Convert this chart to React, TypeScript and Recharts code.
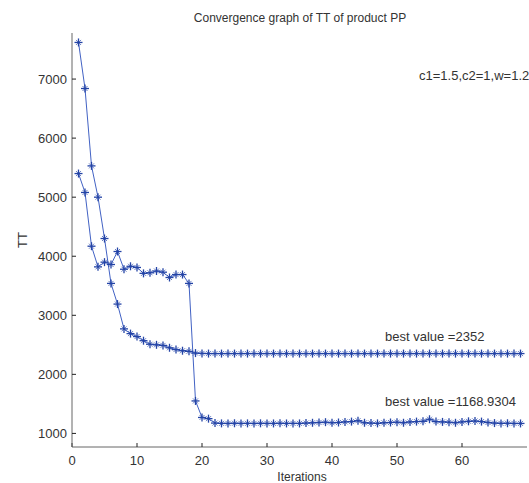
import React from 'react';
import { LineChart, Line, XAxis, YAxis } from 'recharts';

const iterations = [
  1, 2, 3, 4, 5, 6, 7, 8, 9, 10, 11, 12, 13, 14, 15, 16, 17, 18, 19, 20, 21, 22, 23,
  24, 25, 26, 27, 28, 29, 30, 31, 32, 33, 34, 35, 36, 37, 38, 39, 40, 41, 42, 43, 44,
  45, 46, 47, 48, 49, 50, 51, 52, 53, 54, 55, 56, 57, 58, 59, 60, 61, 62, 63, 64, 65,
  66, 67, 68, 69,
];

// run that ends at best value 2352
const runA = [
  7620, 6840, 5530, 5000, 4300, 3540, 3190, 2770, 2690, 2640, 2570, 2510, 2500, 2490,
  2450, 2420, 2400, 2390, 2360, 2355, 2352, 2352, 2352, 2352, 2352, 2352, 2352, 2352,
  2352, 2352, 2352, 2352, 2352, 2352, 2352, 2352, 2352, 2352, 2352, 2352, 2352, 2352,
  2352, 2352, 2352, 2352, 2352, 2352, 2352, 2352, 2352, 2352, 2352, 2352, 2352, 2352,
  2352, 2352, 2352, 2352, 2352, 2352, 2352, 2352, 2352, 2352, 2352, 2352, 2352,
];

// run that ends at best value 1168.9304
const runB = [
  5400, 5080, 4170, 3820, 3900, 3860, 4080, 3780, 3830, 3810, 3710, 3720, 3750, 3730,
  3640, 3690, 3690, 3540, 1550, 1270, 1250, 1175, 1170, 1169, 1172, 1169, 1170, 1169,
  1171, 1169, 1169, 1172, 1169, 1170, 1169, 1175, 1180, 1185, 1190, 1180, 1185, 1195,
  1200, 1215, 1180, 1175, 1170, 1180, 1185, 1190, 1180, 1195, 1200, 1205, 1240, 1200,
  1195, 1190, 1180, 1195, 1205, 1210, 1200, 1185, 1175, 1170, 1172, 1169, 1169,
];

const xTicks = [0, 10, 20, 30, 40, 50, 60];
const yTicks = [1000, 2000, 3000, 4000, 5000, 6000, 7000];

const data = iterations.map((it, i) => ({ it, a: runA[i], b: runB[i] }));

const LINE = '#4262c4';
const MARK = '#2444a6';
const FONT = '"Liberation Sans", Arial, sans-serif';

// matlab style '*' marker
function Star(props: any) {
  const { cx, cy } = props;
  if (cx == null || cy == null) return null;
  const s = 4;
  const d = 2.5;
  return (
    <g stroke={MARK} strokeWidth={1.3}>
      <line x1={cx - s} y1={cy} x2={cx + s} y2={cy} />
      <line x1={cx} y1={cy - s} x2={cx} y2={cy + s} />
      <line x1={cx - d} y1={cy - d} x2={cx + d} y2={cy + d} strokeWidth={0.7} />
      <line x1={cx - d} y1={cy + d} x2={cx + d} y2={cy - d} strokeWidth={0.7} />
    </g>
  );
}

const txt: React.CSSProperties = {
  position: 'absolute',
  fontFamily: FONT,
  color: '#333',
  lineHeight: 1,
  whiteSpace: 'nowrap',
};

export default function App() {
  return (
    <div style={{ position: 'absolute', left: 0, top: 0, width: 529, height: 483, background: '#fff' }}>
      <LineChart
        width={529}
        height={483}
        data={data}
        margin={{ top: 33, right: 2, bottom: 6, left: 12 }}
      >
        <XAxis
          dataKey="it"
          type="number"
          domain={[0, 70]}
          ticks={xTicks}
          height={30}
          stroke="#666"
          tickSize={-4}
          tickMargin={13}
          tick={{ fill: '#333', fontSize: 13, fontFamily: FONT }}
          tickLine={{ stroke: '#222' }}
          allowDataOverflow
        />
        <YAxis
          type="number"
          domain={[770, 7780]}
          ticks={yTicks}
          width={60}
          stroke="#666"
          tickSize={-4}
          tickMargin={9}
          tick={{ fill: '#333', fontSize: 13, fontFamily: FONT }}
          tickLine={{ stroke: '#222' }}
          allowDataOverflow
        />
        <Line
          dataKey="a"
          stroke={LINE}
          strokeWidth={1}
          dot={<Star />}
          activeDot={false}
          isAnimationActive={false}
        />
        <Line
          dataKey="b"
          stroke={LINE}
          strokeWidth={1}
          dot={<Star />}
          activeDot={false}
          isAnimationActive={false}
        />
      </LineChart>
      <div style={{ ...txt, left: 300, top: 12, fontSize: 12, transform: 'translateX(-50%)' }}>
        Convergence graph of TT of product PP
      </div>
      <div style={{ ...txt, left: 419, top: 69, fontSize: 13 }}>c1=1.5,c2=1,w=1.2</div>
      <div style={{ ...txt, left: 385, top: 330, fontSize: 13 }}>best value =2352</div>
      <div style={{ ...txt, left: 385, top: 395, fontSize: 13 }}>best value =1168.9304</div>
      <div style={{ ...txt, left: 302, top: 471, fontSize: 12, transform: 'translateX(-50%)' }}>Iterations</div>
      <div
        style={{
          ...txt,
          left: 22,
          top: 240,
          fontSize: 13,
          transform: 'translate(-50%, -50%) rotate(-90deg)',
        }}
      >
        TT
      </div>
    </div>
  );
}
